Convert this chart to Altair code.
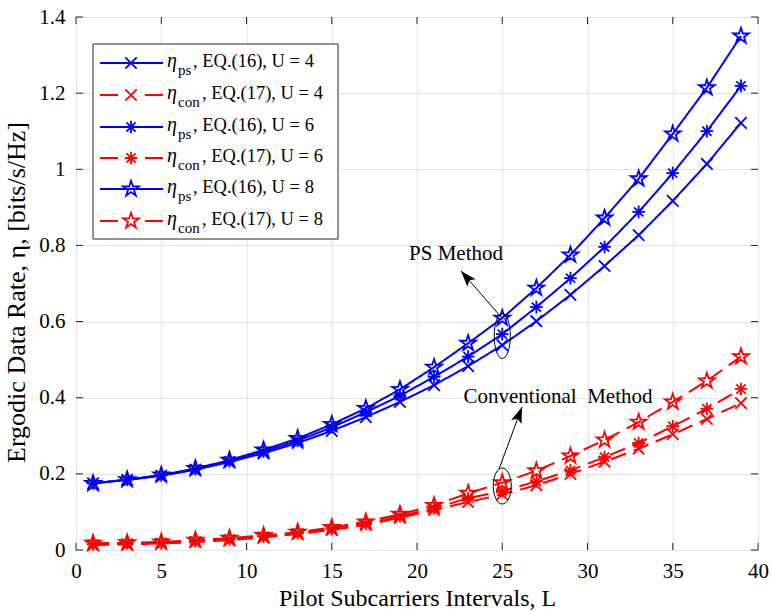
import altair as alt
import pandas as pd

# ---------------- data ----------------
L = [1, 3, 5, 7, 9, 11, 13, 15, 17, 19, 21, 23, 25, 27, 29, 31, 33, 35, 37, 39]

ps_u4 = [0.175, 0.184, 0.195, 0.211, 0.231, 0.254, 0.281, 0.313, 0.349, 0.389,
         0.433, 0.483, 0.538, 0.601, 0.670, 0.746, 0.827, 0.917, 1.014, 1.122]
con_u4 = [0.013, 0.015, 0.017, 0.021, 0.026, 0.033, 0.042, 0.053, 0.066, 0.085,
          0.105, 0.126, 0.146, 0.170, 0.200, 0.232, 0.266, 0.304, 0.344, 0.386]
ps_u6 = [0.175, 0.185, 0.196, 0.212, 0.233, 0.258, 0.287, 0.322, 0.362, 0.405,
         0.455, 0.508, 0.567, 0.638, 0.714, 0.796, 0.888, 0.990, 1.100, 1.219]
con_u6 = [0.015, 0.017, 0.019, 0.023, 0.028, 0.035, 0.044, 0.055, 0.069, 0.089,
          0.110, 0.136, 0.155, 0.180, 0.209, 0.244, 0.281, 0.325, 0.371, 0.423]
ps_u8 = [0.175, 0.185, 0.197, 0.214, 0.236, 0.263, 0.293, 0.330, 0.372, 0.422,
         0.480, 0.543, 0.609, 0.688, 0.775, 0.872, 0.975, 1.093, 1.214, 1.350]
con_u8 = [0.018, 0.019, 0.021, 0.026, 0.031, 0.038, 0.047, 0.059, 0.074, 0.094,
          0.117, 0.149, 0.177, 0.208, 0.247, 0.289, 0.336, 0.389, 0.444, 0.508]

series_keys = ["ps4", "con4", "ps6", "con6", "ps8", "con8"]
series_vals = [ps_u4, con_u4, ps_u6, con_u6, ps_u8, con_u8]
legend_sub = ["ps", "con", "ps", "con", "ps", "con"]
legend_rest = [", EQ.(16), U = 4", ", EQ.(17), U = 4",
               ", EQ.(16), U = 6", ", EQ.(17), U = 6",
               ", EQ.(16), U = 8", ", EQ.(17), U = 8"]

x_ticks = [0, 5, 10, 15, 20, 25, 30, 35, 40]
y_ticks = [0, 0.2, 0.4, 0.6, 0.8, 1.0, 1.2, 1.4]

annot_texts = ["PS Method", "Conventional\u00a0 Method"]

# ---------------- styling ----------------
BLUE = "#0000ff"
RED = "#ff0000"
FONT = "Liberation Serif"
X_PATH = "M-1,-1L1,1M-1,1L1,-1"
AST_PATH = "M-1,0L1,0M0,-1L0,1M-0.72,-0.72L0.72,0.72M-0.72,0.72L0.72,-0.72"
STAR_PATH = ("M0,-1L0.225,-0.309L0.951,-0.309L0.363,0.118L0.588,0.809L0,0.382"
             "L-0.588,0.809L-0.363,0.118L-0.951,-0.309L-0.225,-0.309Z")
ELLIPSE_PS = "M0,-1A0.36,1 0 1,1 0,1A0.36,1 0 1,1 0,-1Z"
ELLIPSE_CON = "M0,-1A0.5,1 0 1,1 0,1A0.5,1 0 1,1 0,-1Z"
ARROW_HEAD = "M0,0L-0.55,1.6L0,1.25L0.55,1.6Z"

style = {
    "ps4": (BLUE, [1, 0], X_PATH, 130),
    "con4": (RED, [16, 8], X_PATH, 130),
    "ps6": (BLUE, [1, 0], AST_PATH, 160),
    "con6": (RED, [16, 8], AST_PATH, 160),
    "ps8": (BLUE, [1, 0], STAR_PATH, 270),
    "con8": (RED, [16, 8], STAR_PATH, 270),
}

W, H = 682, 533
XMAX, YMAX = 40, 1.4
LEFT, TOP = 76, 17


def dx(px):
    return (px - LEFT) / W * XMAX


def dy(py):
    return (TOP + H - py) / H * YMAX


xs = alt.Scale(domain=[0, XMAX], nice=False, zero=False)
ys = alt.Scale(domain=[0, YMAX], nice=False, zero=False)

layers = []

# manual inward ticks (MATLAB style)
tick_len_x = dx(LEFT + 7)
tick_len_y = dy(TOP + H - 7)
tick_rows = []
for t in x_ticks:
    tick_rows.append({"x": t, "x2": t, "y": 0, "y2": tick_len_y})
    tick_rows.append({"x": t, "x2": t, "y": YMAX, "y2": YMAX - tick_len_y})
for t in y_ticks:
    tick_rows.append({"x": 0, "x2": tick_len_x, "y": t, "y2": t})
    tick_rows.append({"x": XMAX, "x2": XMAX - tick_len_x, "y": t, "y2": t})
ticks_df = pd.DataFrame(tick_rows)

axis_x = alt.Axis(values=x_ticks, grid=True, ticks=False, domain=False, format="d",
                  labelFlush=False, labelOverlap=False, labelPadding=10,
                  title="Pilot Subcarriers Intervals, L", titleFontSize=24)
axis_y = alt.Axis(values=y_ticks, grid=True, ticks=False, domain=False, format="~g",
                  labelFlush=False, labelOverlap=False, labelPadding=11,
                  title="Ergodic Data Rate,  η, [bits/s/Hz]", titleFontSize=26,
                  titleY=275)

ticks_layer = alt.Chart(ticks_df).mark_rule(color="#262626", strokeWidth=1).encode(
    x=alt.X("x:Q", scale=xs, axis=axis_x),
    y=alt.Y("y:Q", scale=ys, axis=axis_y),
    x2="x2:Q", y2="y2:Q",
)
layers.append(ticks_layer)

# data series
for key, vals in zip(series_keys, series_vals):
    col, dash, shp, sz = style[key]
    df = pd.DataFrame({"L": L, "rate": vals})
    base = alt.Chart(df).encode(
        x=alt.X("L:Q", scale=xs), y=alt.Y("rate:Q", scale=ys))
    layers.append(base.mark_line(color=col, strokeWidth=2, strokeDash=dash))
    layers.append(base.mark_point(shape=shp, size=sz, filled=False, color=col,
                                  strokeWidth=1.8, opacity=1))

# annotations: ellipses, arrows, labels
ell_df = pd.DataFrame({"x": [25, 25], "y": [dy(336), dy(486)],
                       "kind": ["ps", "con"]})
layers.append(alt.Chart(ell_df[ell_df.kind == "ps"]).mark_point(
    shape=ELLIPSE_PS, size=2025, filled=False, color="black", strokeWidth=1, opacity=1
).encode(x=alt.X("x:Q", scale=xs), y=alt.Y("y:Q", scale=ys)))
layers.append(alt.Chart(ell_df[ell_df.kind == "con"]).mark_point(
    shape=ELLIPSE_CON, size=1300, filled=False, color="black", strokeWidth=1, opacity=1
).encode(x=alt.X("x:Q", scale=xs), y=alt.Y("y:Q", scale=ys)))

arr_df = pd.DataFrame({
    "x": [dx(502), dx(499)], "y": [dy(318), dy(469)],
    "x2": [dx(461), dx(522)], "y2": [dy(271), dy(407)],
    "angle": [318.5, 20.6],
})
layers.append(alt.Chart(arr_df).mark_rule(color="black", strokeWidth=1).encode(
    x=alt.X("x:Q", scale=xs), y=alt.Y("y:Q", scale=ys), x2="x2:Q", y2="y2:Q"))
layers.append(alt.Chart(arr_df).mark_point(
    shape=ARROW_HEAD, size=400, filled=True, color="black", opacity=1
).encode(x=alt.X("x2:Q", scale=xs), y=alt.Y("y2:Q", scale=ys),
         angle=alt.Angle("angle:Q", scale=None)))

ann_df = pd.DataFrame({"x": [dx(456), dx(558)], "y": [dy(254), dy(397)],
                       "t": annot_texts})
layers.append(alt.Chart(ann_df).mark_text(
    font=FONT, fontSize=21, color="black", align="center", baseline="middle"
).encode(x=alt.X("x:Q", scale=xs), y=alt.Y("y:Q", scale=ys), text="t:N"))

# legend box
box_df = pd.DataFrame({"x": [dx(93)], "x2": [dx(338)], "y": [dy(44)], "y2": [dy(239)]})
layers.append(alt.Chart(box_df).mark_rect(fill="white", stroke="#262626", strokeWidth=1).encode(
    x=alt.X("x:Q", scale=xs), x2="x2:Q", y=alt.Y("y:Q", scale=ys), y2="y2:Q"))

row_px = [63, 95, 127, 158, 189, 221]
eta_rows, sub_rows, rest_rows = [], [], []
for i, key in enumerate(series_keys):
    col, dash, shp, sz = style[key]
    cy = row_px[i]
    seg = pd.DataFrame({"x": [dx(100)], "x2": [dx(163)], "y": [dy(cy)]})
    rule_dash = [1, 0] if dash == [1, 0] else [18, 27]
    layers.append(alt.Chart(seg).mark_rule(color=col, strokeWidth=2, strokeDash=rule_dash).encode(
        x=alt.X("x:Q", scale=xs), x2="x2:Q", y=alt.Y("y:Q", scale=ys)))
    mk = pd.DataFrame({"x": [dx(131)], "y": [dy(cy)]})
    layers.append(alt.Chart(mk).mark_point(shape=shp, size=sz, filled=False, color=col,
                                           strokeWidth=1.8, opacity=1).encode(
        x=alt.X("x:Q", scale=xs), y=alt.Y("y:Q", scale=ys)))
    sub = legend_sub[i]
    rest_x = 193 if sub == "ps" else 202
    eta_rows.append({"x": dx(167), "y": dy(cy + 4), "t": "η"})
    sub_rows.append({"x": dx(178), "y": dy(cy + 12), "t": sub})
    rest_rows.append({"x": dx(rest_x), "y": dy(cy + 4), "t": legend_rest[i]})

for rows, fs, fst in [(eta_rows, 20, "italic"), (sub_rows, 15, "normal"),
                      (rest_rows, 18.5, "normal")]:
    layers.append(alt.Chart(pd.DataFrame(rows)).mark_text(
        font=FONT, fontSize=fs, fontStyle=fst, color="black", align="left",
        baseline="alphabetic"
    ).encode(x=alt.X("x:Q", scale=xs), y=alt.Y("y:Q", scale=ys), text="t:N"))

chart = alt.layer(*layers).properties(
    width=W, height=H,
    autosize=alt.AutoSizeParams(type="none"),
    padding={"left": LEFT, "top": TOP, "right": 771 - LEFT - W, "bottom": 612 - TOP - H},
).configure_view(
    stroke="#262626", strokeWidth=1
).configure_axis(
    labelFont=FONT, labelFontSize=21, labelColor="black",
    titleFont=FONT, titleFontWeight="normal", titleColor="black",
    gridColor="#e3e3e3", gridWidth=1,
).configure_axisX(titlePadding=5).configure_axisY(titlePadding=9)

chart.save("out.html", embed_options={"renderer": "svg", "actions": False})
